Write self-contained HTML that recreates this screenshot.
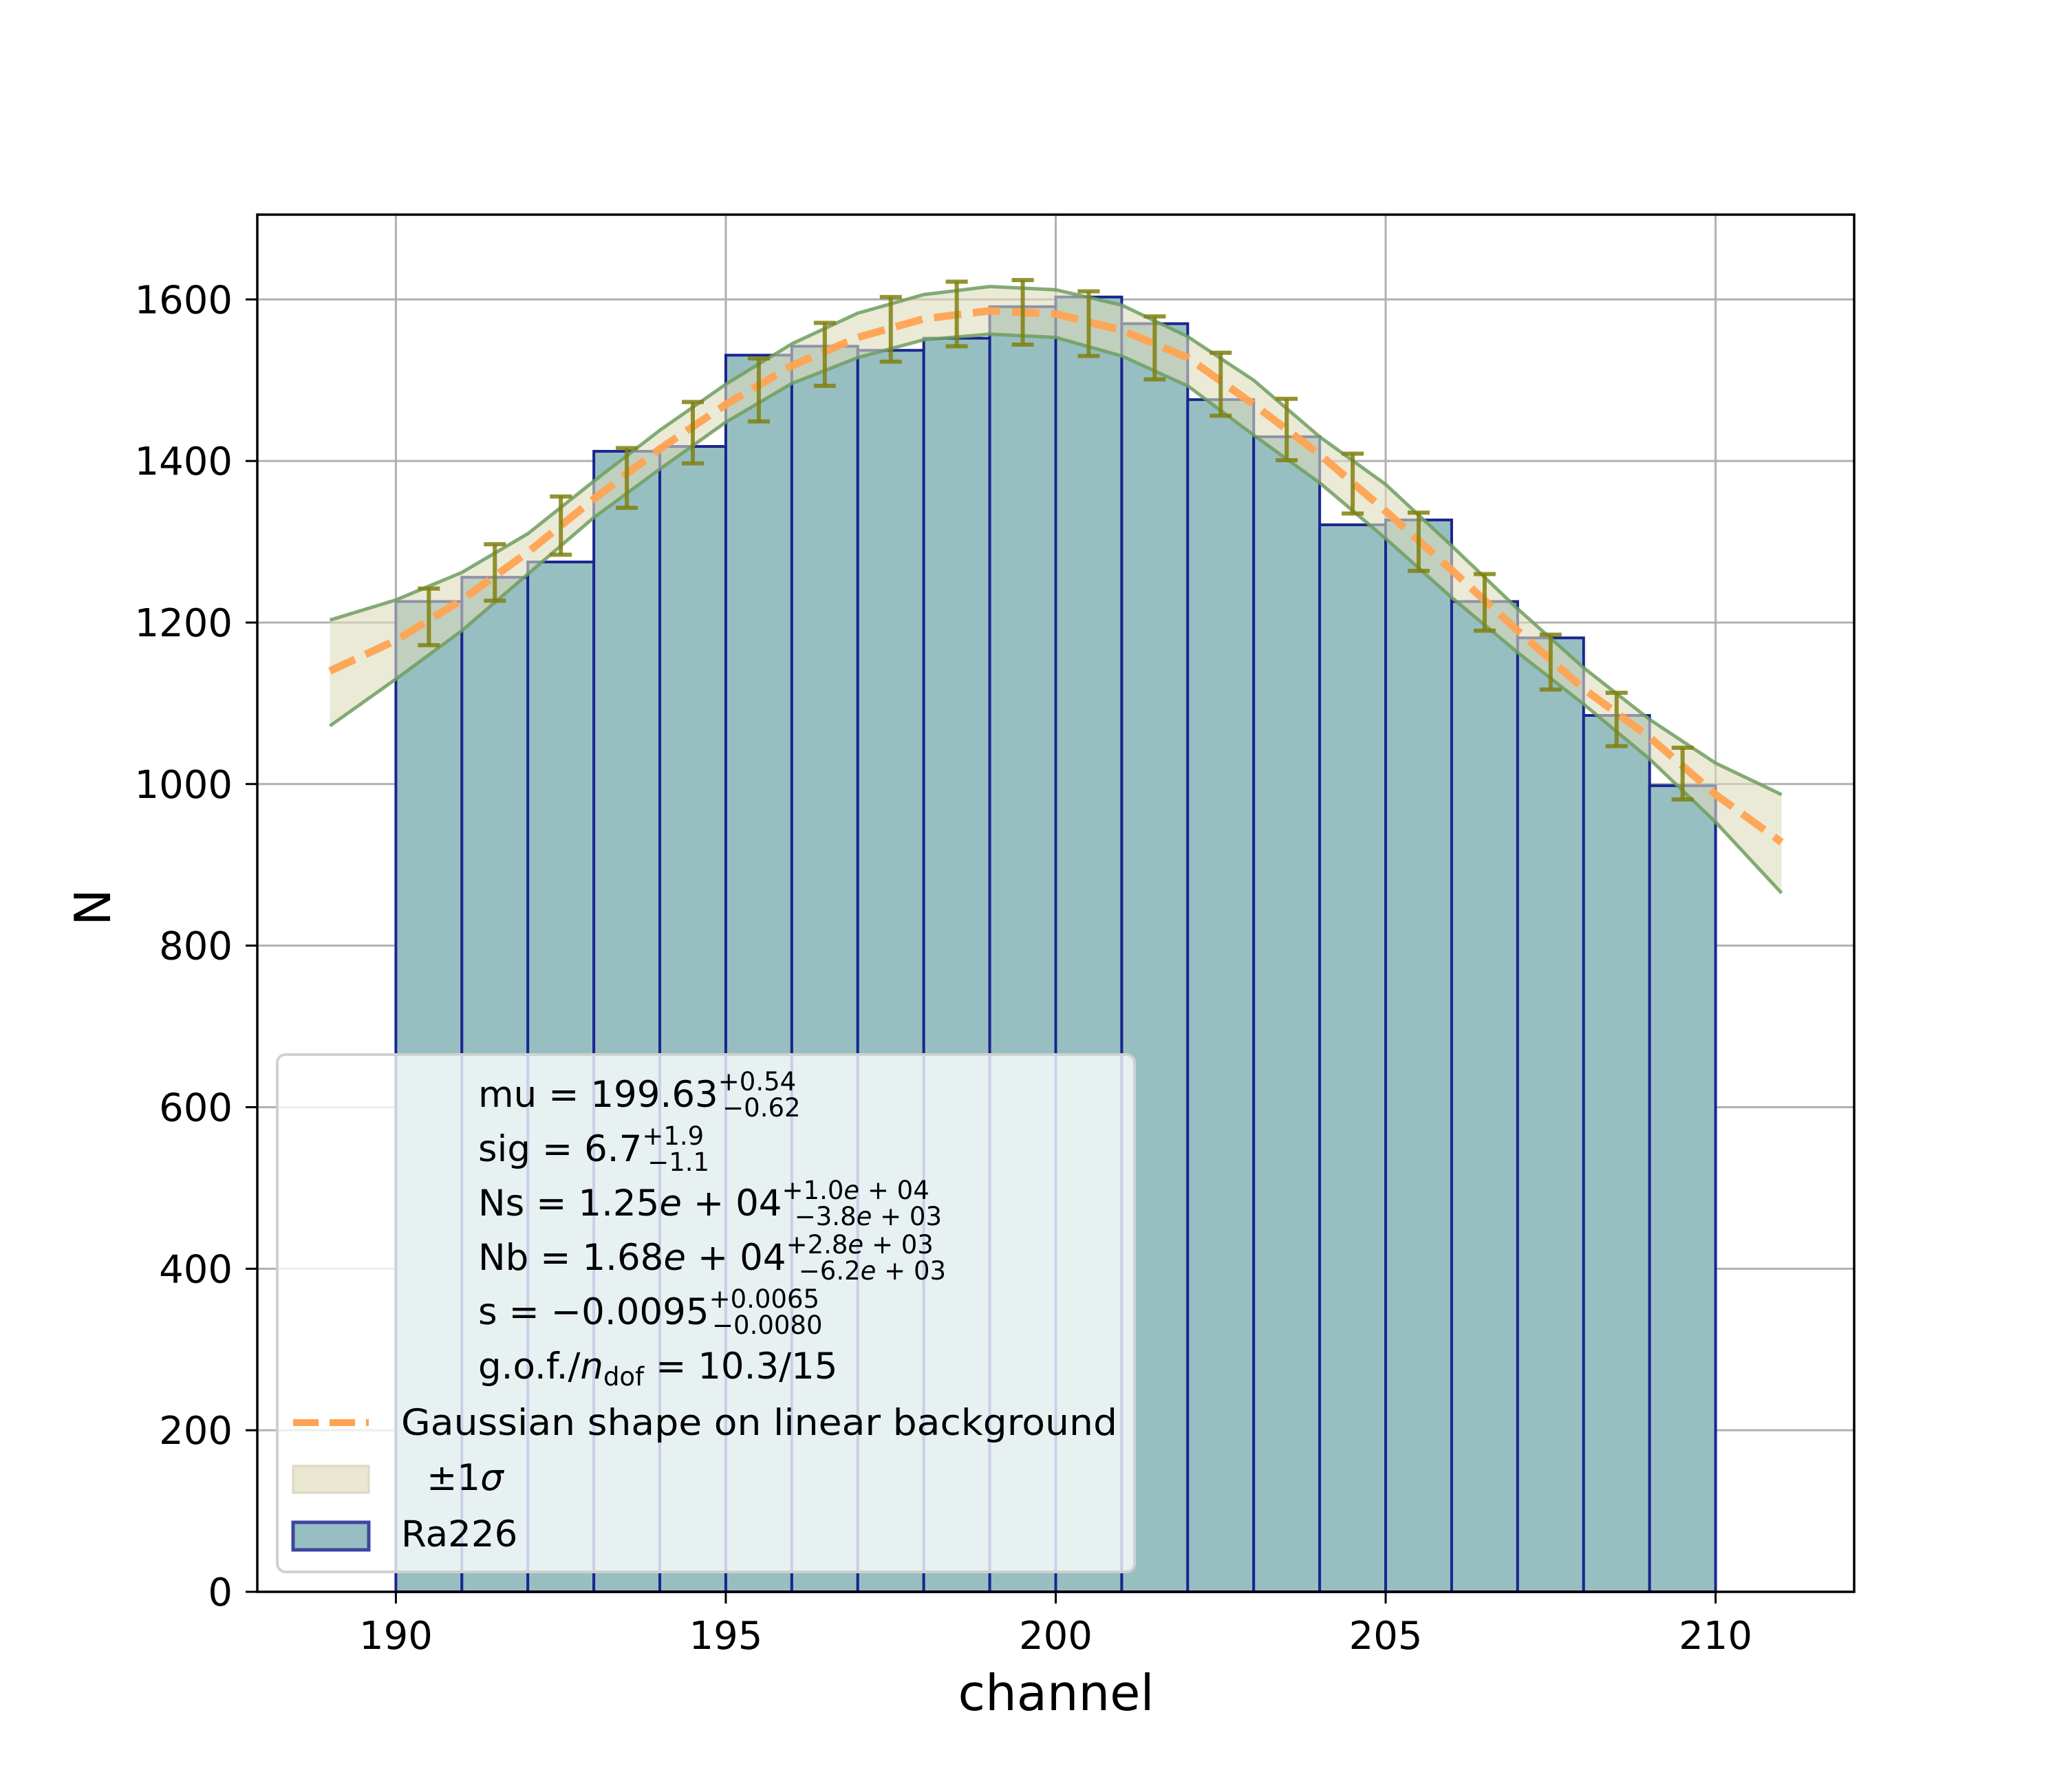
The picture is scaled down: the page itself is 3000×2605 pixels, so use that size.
<!DOCTYPE html>
<html><head><meta charset="utf-8"><style>
html,body{margin:0;padding:0;background:#fff;}
svg text{font-family:"DejaVu Sans","Liberation Sans",sans-serif;fill:#000;}
</style></head><body>
<svg id="chart" xmlns="http://www.w3.org/2000/svg" width="3000" height="2600" viewBox="0 0 3000 2600">
<rect width="3000" height="2600" fill="#fff"/>
<g id="grid"></g>
<g id="bars"></g>
<g id="band"></g>
<g id="fit"></g>
<g id="errs"></g>
<g id="axes"></g>
<g id="legend">
  <rect x="403" y="1533" width="1246" height="752" rx="12" fill="#fff" fill-opacity="0.78" stroke="#d0d0d0" stroke-width="4"/>
  <text x="695" y="1609" font-size="53">mu = 199.63<tspan font-size="37" dy="-24">+0.54</tspan><tspan font-size="37" dx="-107" dy="38">−0.62</tspan></text>
  <text x="695" y="1688" font-size="53">sig = 6.7<tspan font-size="37" dy="-24">+1.9</tspan><tspan font-size="37" dx="-82" dy="38">−1.1</tspan></text>
  <text x="695" y="1767" font-size="53">Ns = 1.25<tspan font-style="italic">e</tspan> + 04<tspan font-size="37" dy="-24">+1.0<tspan font-style="italic">e</tspan> + 04</tspan><tspan font-size="37" dx="-196" dy="38">−3.8<tspan font-style="italic">e</tspan> + 03</tspan></text>
  <text x="695" y="1846" font-size="53">Nb = 1.68<tspan font-style="italic">e</tspan> + 04<tspan font-size="37" dy="-24">+2.8<tspan font-style="italic">e</tspan> + 03</tspan><tspan font-size="37" dx="-196" dy="38">−6.2<tspan font-style="italic">e</tspan> + 03</tspan></text>
  <text x="695" y="1925" font-size="53">s = −0.0095<tspan font-size="37" dy="-24">+0.0065</tspan><tspan font-size="37" dx="-156" dy="38">−0.0080</tspan></text>
  <text x="695" y="2004" font-size="53">g.o.f./<tspan font-style="italic">n</tspan><tspan font-size="37" dy="10">dof</tspan><tspan dy="-10"> = 10.3/15</tspan></text>
  <line x1="426" y1="2068" x2="536" y2="2068" stroke="#ffa352" stroke-width="10" stroke-dasharray="37,16"/>
  <text x="583" y="2086" font-size="53" textLength="1041" lengthAdjust="spacingAndGlyphs">Gaussian shape on linear background</text>
  <rect x="426" y="2131" width="110" height="39" fill="#e9e7d2" stroke="#dcdac0" stroke-width="3"/>
  <text x="620" y="2166" font-size="53">±1<tspan font-style="italic">σ</tspan></text>
  <rect x="426" y="2213" width="110" height="40" fill="#97bfc2" stroke="#3d45a0" stroke-width="5"/>
  <text x="583" y="2248" font-size="53">Ra226</text>
</g>
<text x="1535" y="2486" font-size="72" text-anchor="middle">channel</text>
<text x="0" y="0" font-size="72" text-anchor="middle" transform="translate(160,1319) rotate(-90)">N</text>
</svg>
<script>
const binEdgesStart = [190,191,192,193,194,195,196,197,198,199,200,201,202,203,204,205,206,207,208,209];
const counts = [1226,1256,1275,1412,1418,1531,1542,1537,1552,1591,1603,1570,1476,1430,1321,1327,1226,1181,1085,998];
const curveX = [189,190,191,192,193,194,195,196,197,198,199,200,201,202,203,204,205,206,207,208,209,210,211];
const curveY = [1140,1178,1228,1287,1353,1415,1470,1518,1553,1576,1586,1582,1562,1528,1470,1408,1338,1265,1190,1118,1058,987,928];
const bandUpper = [1203,1228,1262,1310,1375,1438,1495,1545,1583,1606,1616,1612,1593,1554,1500,1430,1371,1295,1217,1144,1080,1026,987];
const bandLower = [1072,1130,1190,1260,1330,1390,1448,1496,1528,1550,1557,1553,1530,1493,1432,1373,1304,1231,1163,1099,1031,953,865];
const errX = [190.5,191.5,192.5,193.5,194.5,195.5,196.5,197.5,198.5,199.5,200.5,201.5,202.5,203.5,204.5,205.5,206.5,207.5,208.5,209.5];
const errCenter = [1207,1262,1320,1379,1435,1488,1532,1563,1582,1584,1570,1540,1495,1439,1372,1300,1225,1151,1080,1013];
const errHalf = [35,35,36,37,38,39,39,40,40,40,40,39,39,38,37,36,35,34,33,32];
const xTicks = [190,195,200,205,210];
const yTicks = [0,200,400,600,800,1000,1200,1400,1600];

const L=374,R=2695,T=312,B=2314;
const xMin=187.9,xMax=212.1,yMax=1705;
const X=v=>L+(v-xMin)/(xMax-xMin)*(R-L);
const Y=v=>B-v/yMax*(B-T);
const NS='http://www.w3.org/2000/svg';
function mk(tag,parent,attrs){const e=document.createElementNS(NS,tag);for(const k in attrs)e.setAttribute(k,attrs[k]);parent.appendChild(e);return e;}
const grid=document.getElementById('grid'),bars=document.getElementById('bars'),band=document.getElementById('band'),fit=document.getElementById('fit'),errs=document.getElementById('errs'),axes=document.getElementById('axes');

xTicks.forEach(t=>{
  const g=mk('line',grid,{x1:X(t),x2:X(t),y1:T,y2:B,stroke:'#b0b0b0','stroke-width':3});
  
  
  const tk=mk('line',axes,{x1:X(t),x2:X(t),y1:B,y2:B+17,stroke:'#000','stroke-width':3});
  
  
  const lb=mk('text',axes,{x:X(t),y:2397,'font-size':56,'text-anchor':'middle'});
  lb.textContent=t;
  
  
});
yTicks.forEach(t=>{
  const g=mk('line',grid,{x1:L,x2:R,y1:Y(t),y2:Y(t),stroke:'#b0b0b0','stroke-width':3});
  
  
  const tk=mk('line',axes,{x1:L-17,x2:L,y1:Y(t),y2:Y(t),stroke:'#000','stroke-width':3});
  
  
  const lb=mk('text',axes,{x:338,y:Y(t)+20,'font-size':56,'text-anchor':'end'});
  lb.textContent=t;
  
  
});
binEdgesStart.forEach((s,i)=>{
  const r=mk('rect',bars,{x:X(s),y:Y(counts[i]),width:X(s+1)-X(s),height:B-Y(counts[i]),fill:'#97bfc2',stroke:'#1a2590','stroke-width':4});
  
  
});
let up=curveX.map((x,i)=>X(x)+','+Y(bandUpper[i])).join(' ');
let lo=curveX.map((x,i)=>X(x)+','+Y(bandLower[i])).reverse().join(' ');
const poly=mk('polygon',band,{points:up+' '+lo,fill:'#dedcba','fill-opacity':0.6,stroke:'none'});


const pu=mk('polyline',band,{points:up,fill:'none',stroke:'#6f9e5f','stroke-width':5,'stroke-opacity':0.85});


const pl=mk('polyline',band,{points:curveX.map((x,i)=>X(x)+','+Y(bandLower[i])).join(' '),fill:'none',stroke:'#6f9e5f','stroke-width':5,'stroke-opacity':0.85});


const fl=mk('polyline',fit,{points:curveX.map((x,i)=>X(x)+','+Y(curveY[i])).join(' '),fill:'none',stroke:'#ffa352','stroke-width':11,'stroke-dasharray':'40,17','stroke-opacity':0.95});


errX.forEach((x,i)=>{
  const g=mk('g',errs,{stroke:'#808010','stroke-width':6,'stroke-opacity':0.85});
  
  
  const a=Y(errCenter[i]+errHalf[i]),b=Y(errCenter[i]-errHalf[i]),cx=X(x);
  mk('line',g,{x1:cx,x2:cx,y1:a,y2:b});
  mk('line',g,{x1:cx-16,x2:cx+16,y1:a,y2:a});
  mk('line',g,{x1:cx-16,x2:cx+16,y1:b,y2:b});
});
const fr=mk('rect',axes,{x:L,y:T,width:R-L,height:B-T,fill:'none',stroke:'#000','stroke-width':3.5});


</script>
</body></html>
